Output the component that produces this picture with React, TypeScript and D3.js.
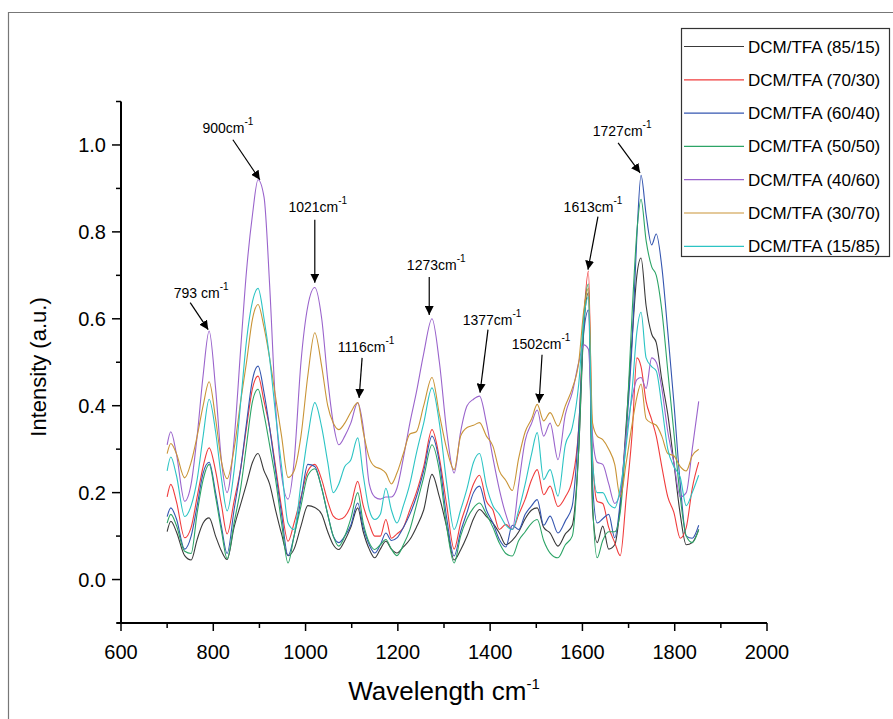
import React, { useEffect, useRef } from "react";
import * as d3 from "d3";

// wavenumber grid (cm-1) shared by all spectra
const wavenumbers = [
  700, 708, 720, 738, 752, 765, 778, 791, 805, 818,
  830, 845, 860, 872, 885, 897, 910, 922, 935, 948,
  962, 975, 990, 1005, 1020, 1035, 1048, 1060, 1072, 1085,
  1098, 1113, 1125, 1138, 1150, 1162, 1174, 1186, 1198, 1212,
  1226, 1240, 1256, 1274, 1290, 1306, 1322, 1336, 1350, 1364,
  1377, 1392, 1406, 1420, 1434, 1448, 1462, 1476, 1490, 1502,
  1516, 1530, 1547, 1563, 1578, 1592, 1603, 1613, 1622, 1632,
  1644, 1657, 1670, 1682, 1695, 1708, 1718, 1727, 1738, 1750,
  1760, 1772, 1785, 1798, 1812, 1825, 1838, 1852,
];

const dcm8515 = [
  0.11, 0.134, 0.11, 0.055, 0.045, 0.092, 0.13, 0.142, 0.10, 0.065,
  0.046, 0.12, 0.176, 0.22, 0.27, 0.29, 0.25, 0.22, 0.16, 0.105,
  0.055, 0.07, 0.123, 0.17, 0.166, 0.15, 0.11, 0.08, 0.069, 0.09,
  0.12, 0.165, 0.11, 0.07, 0.05, 0.07, 0.088, 0.07, 0.061, 0.075,
  0.092, 0.12, 0.16, 0.242, 0.19, 0.12, 0.045, 0.068, 0.10, 0.14,
  0.161, 0.145, 0.13, 0.107, 0.08, 0.09, 0.11, 0.14, 0.16, 0.165,
  0.12, 0.107, 0.077, 0.105, 0.125, 0.30, 0.58, 0.66, 0.16, 0.085,
  0.123, 0.07, 0.08, 0.17, 0.36, 0.56, 0.70, 0.74, 0.63, 0.565,
  0.545, 0.46, 0.38, 0.27, 0.15, 0.08, 0.085, 0.115,
];
const dcm7030 = [
  0.19, 0.219, 0.18, 0.096, 0.12, 0.19, 0.26, 0.303, 0.25, 0.17,
  0.105, 0.18, 0.26, 0.35, 0.44, 0.468, 0.41, 0.35, 0.26, 0.165,
  0.088, 0.13, 0.19, 0.25, 0.265, 0.23, 0.18, 0.146, 0.138, 0.145,
  0.17, 0.226, 0.17, 0.128, 0.10, 0.10, 0.138, 0.095, 0.105, 0.12,
  0.16, 0.20, 0.26, 0.345, 0.28, 0.17, 0.07, 0.13, 0.175, 0.22,
  0.24, 0.18, 0.16, 0.115, 0.127, 0.115, 0.15, 0.185, 0.23, 0.253,
  0.195, 0.215, 0.168, 0.19, 0.23, 0.35, 0.60, 0.71, 0.28, 0.18,
  0.175, 0.12, 0.085, 0.055, 0.19, 0.34, 0.51, 0.49, 0.41, 0.368,
  0.33, 0.26, 0.19, 0.155, 0.095, 0.12, 0.21, 0.27,
];
const dcm6040 = [
  0.145, 0.165, 0.14, 0.07, 0.10, 0.17, 0.245, 0.27, 0.20, 0.12,
  0.06, 0.16, 0.26, 0.36, 0.46, 0.491, 0.43, 0.35, 0.25, 0.15,
  0.055, 0.10, 0.184, 0.265, 0.26, 0.21, 0.15, 0.10, 0.085, 0.10,
  0.125, 0.176, 0.12, 0.08, 0.061, 0.08, 0.107, 0.09, 0.096, 0.12,
  0.15, 0.19, 0.25, 0.33, 0.27, 0.14, 0.054, 0.11, 0.155, 0.20,
  0.215, 0.16, 0.13, 0.092, 0.075, 0.125, 0.115, 0.15, 0.17, 0.184,
  0.125, 0.146, 0.107, 0.135, 0.17, 0.35, 0.57, 0.62, 0.22, 0.13,
  0.14, 0.15, 0.096, 0.18, 0.34, 0.55, 0.79, 0.93, 0.84, 0.77,
  0.795, 0.72, 0.57, 0.41, 0.22, 0.10, 0.095, 0.125,
];
const dcm5050 = [
  0.13, 0.15, 0.125, 0.065, 0.06, 0.153, 0.23, 0.265, 0.19, 0.11,
  0.048, 0.13, 0.215, 0.31, 0.41, 0.438, 0.38, 0.31, 0.23, 0.13,
  0.038, 0.10, 0.169, 0.24, 0.255, 0.21, 0.15, 0.10, 0.077, 0.10,
  0.14, 0.20, 0.13, 0.085, 0.069, 0.08, 0.092, 0.07, 0.055, 0.08,
  0.115, 0.17, 0.235, 0.31, 0.25, 0.12, 0.038, 0.10, 0.14, 0.165,
  0.176, 0.15, 0.12, 0.084, 0.06, 0.054, 0.09, 0.11, 0.13, 0.138,
  0.09, 0.061, 0.05, 0.08, 0.10, 0.30, 0.60, 0.68, 0.18, 0.05,
  0.09, 0.11, 0.11, 0.155, 0.34, 0.62, 0.80, 0.875, 0.78, 0.72,
  0.70, 0.62, 0.48, 0.34, 0.19, 0.10, 0.085, 0.115,
];
const dcm4060 = [
  0.31, 0.34, 0.29, 0.18, 0.22, 0.33, 0.47, 0.572, 0.44, 0.27,
  0.20, 0.32, 0.54, 0.71, 0.84, 0.92, 0.88, 0.68, 0.40, 0.24,
  0.185, 0.27, 0.50, 0.63, 0.672, 0.60, 0.46, 0.36, 0.31, 0.33,
  0.36, 0.407, 0.35, 0.22, 0.19, 0.185, 0.19, 0.19, 0.21, 0.28,
  0.36, 0.43, 0.52, 0.60, 0.50, 0.34, 0.245, 0.34, 0.40, 0.415,
  0.422, 0.36, 0.28, 0.207, 0.15, 0.115, 0.22, 0.32, 0.36, 0.39,
  0.33, 0.36, 0.276, 0.38, 0.43, 0.50, 0.54, 0.53, 0.33, 0.27,
  0.265, 0.22, 0.175, 0.20, 0.33, 0.42, 0.46, 0.465, 0.44, 0.51,
  0.50, 0.44, 0.34, 0.27, 0.19, 0.20, 0.30, 0.41,
];
const dcm3070 = [
  0.29, 0.313, 0.29, 0.234, 0.27, 0.33, 0.40, 0.455, 0.37, 0.27,
  0.232, 0.30, 0.415, 0.50, 0.60, 0.633, 0.58, 0.51, 0.42, 0.33,
  0.235, 0.25, 0.33, 0.47, 0.568, 0.49, 0.40, 0.36, 0.345, 0.36,
  0.385, 0.407, 0.34, 0.28, 0.26, 0.255, 0.245, 0.22, 0.245, 0.29,
  0.335, 0.34, 0.40, 0.465, 0.38, 0.30, 0.253, 0.33, 0.35, 0.355,
  0.361, 0.33, 0.307, 0.25, 0.228, 0.205, 0.28, 0.34, 0.37, 0.403,
  0.365, 0.384, 0.353, 0.40, 0.44, 0.50, 0.62, 0.67, 0.36, 0.33,
  0.322, 0.30, 0.265, 0.19, 0.27, 0.36, 0.42, 0.45, 0.37, 0.36,
  0.355, 0.33, 0.29, 0.285, 0.26, 0.25, 0.285, 0.30,
];
const dcm1585 = [
  0.25, 0.282, 0.24, 0.145, 0.17, 0.23, 0.33, 0.415, 0.34, 0.23,
  0.158, 0.25, 0.415, 0.55, 0.64, 0.67, 0.60, 0.51, 0.38, 0.26,
  0.13, 0.115, 0.22, 0.33, 0.407, 0.35, 0.27, 0.20, 0.22, 0.26,
  0.275, 0.326, 0.24, 0.16, 0.138, 0.15, 0.21, 0.16, 0.13, 0.17,
  0.22, 0.29, 0.36, 0.441, 0.36, 0.22, 0.115, 0.16, 0.21, 0.27,
  0.29, 0.215, 0.17, 0.15, 0.125, 0.115, 0.16, 0.22, 0.29, 0.338,
  0.23, 0.253, 0.192, 0.31, 0.35, 0.45, 0.60, 0.65, 0.27, 0.20,
  0.20, 0.175, 0.165, 0.21, 0.31, 0.44, 0.57, 0.615, 0.51, 0.49,
  0.48, 0.40, 0.30, 0.26, 0.235, 0.17, 0.20, 0.24,
];

const seriesNames = [
  "DCM/TFA (85/15)", "DCM/TFA (70/30)", "DCM/TFA (60/40)", "DCM/TFA (50/50)",
  "DCM/TFA (40/60)", "DCM/TFA (30/70)", "DCM/TFA (15/85)",
];
const seriesValues = [dcm8515, dcm7030, dcm6040, dcm5050, dcm4060, dcm3070, dcm1585];
const seriesColors = ["#3a3a3a", "#f03c3c", "#3556b0", "#2ca466", "#9a64cc", "#c99436", "#2cc4c4"];

// peak annotations: label, arrow tip (wavenumber, intensity)
const peakLabels = ["793 cm", "900cm", "1021cm", "1116cm", "1273cm", "1377cm", "1502cm", "1613cm", "1727cm"];
const peakTipX = [789, 901, 1020, 1116, 1268, 1378, 1506, 1612, 1725];
const peakTipY = [0.575, 0.92, 0.683, 0.418, 0.609, 0.43, 0.407, 0.713, 0.936];

const xTicks = [600, 800, 1000, 1200, 1400, 1600, 1800, 2000];
const yTicks = [0.0, 0.2, 0.4, 0.6, 0.8, 1.0];

// arrow tail offsets from tip, and label offsets from tail (px)
const arrowLayout = [
  { dx: -18, dy: -27, lx: 11, ly: -5 },
  { dx: -27, dy: -40, lx: -5, ly: -7 },
  { dx: 0, dy: -63, lx: 3, ly: -8 },
  { dx: 3, dy: -40, lx: 4, ly: -6 },
  { dx: 0, dy: -38, lx: 7, ly: -7 },
  { dx: 8, dy: -63, lx: 4, ly: -5 },
  { dx: 3, dy: -48, lx: -1, ly: -6 },
  { dx: 10, dy: -53, lx: -5, ly: -5 },
  { dx: -22, dy: -30, lx: 4, ly: -7 },
];

const FONT = "'Liberation Sans', Arial, sans-serif";

function SpectraChart() {
  const svgNode = useRef(null);
  const width = 893;
  const height = 719;

  useEffect(() => {
    const svg = d3.select(svgNode.current);
    svg.selectAll("*").remove();

    const x = d3.scaleLinear().domain([600, 2000]).range([121, 767]);
    const y = d3.scaleLinear().domain([-0.1, 1.1]).range([623, 101.5]);

    //outer frame
    svg.append("path")
      .attr("d", `M8.5,${height} V12.5 H${width}`)
      .attr("fill", "none")
      .attr("stroke", "#777")
      .attr("stroke-width", 1.2);

    //arrow marker
    svg.append("defs").append("marker")
      .attr("id", "arrowHead")
      .attr("viewBox", "0 0 10 10")
      .attr("refX", 10).attr("refY", 5)
      .attr("markerWidth", 9).attr("markerHeight", 9)
      .attr("markerUnits", "userSpaceOnUse")
      .attr("orient", "auto")
      .append("path")
      .attr("d", "M0,0 L10,5 L0,10 z")
      .attr("fill", "#000");

    //spectra
    const line = d3.line()
      .x(d => x(d[0]))
      .y(d => y(d[1]))
      .curve(d3.curveMonotoneX);
    seriesValues.forEach((vals, i) => {
      const pts = wavenumbers.slice(0, vals.length).map((w, j) => [w, vals[j]]);
      svg.append("path")
        .datum(pts)
        .attr("fill", "none")
        .attr("stroke", seriesColors[i])
        .attr("stroke-width", 1.1)
        .attr("d", line);
    });

    //axes
    const axes = svg.append("g").attr("stroke", "#000").attr("stroke-width", 2);
    axes.append("line").attr("x1", 117).attr("x2", x(2000)).attr("y1", y(-0.1)).attr("y2", y(-0.1));
    axes.append("line").attr("x1", x(600)).attr("x2", x(600)).attr("y1", y(1.1)).attr("y2", y(-0.1));

    d3.range(600, 2001, 100).forEach(v => {
      const major = v % 200 === 0;
      axes.append("line")
        .attr("x1", x(v)).attr("x2", x(v))
        .attr("y1", y(-0.1)).attr("y2", y(-0.1) + (major ? 8 : 5))
        .attr("stroke-width", 1.5);
    });
    d3.range(-0.1, 1.15, 0.1).forEach(v => {
      const major = Math.round(v * 10) % 2 === 0;
      axes.append("line")
        .attr("x1", x(600)).attr("x2", x(600) - (major ? 9 : 5))
        .attr("y1", y(v)).attr("y2", y(v))
        .attr("stroke-width", 1.5);
    });

    svg.append("g").selectAll("text")
      .data(xTicks).join("text")
      .attr("x", d => x(d)).attr("y", y(-0.1) + 36)
      .attr("text-anchor", "middle")
      .attr("font-family", FONT).attr("font-size", 20)
      .text(d => d);

    svg.append("g").selectAll("text")
      .data(yTicks).join("text")
      .attr("x", x(600) - 15).attr("y", d => y(d) + 7)
      .attr("text-anchor", "end")
      .attr("font-family", FONT).attr("font-size", 20)
      .text(d => d3.format(".1f")(d));

    //axis titles
    const xt = svg.append("text")
      .attr("x", 444).attr("y", 700)
      .attr("text-anchor", "middle")
      .attr("font-family", FONT).attr("font-size", 26);
    xt.append("tspan").text("Wavelength cm");
    xt.append("tspan").attr("dy", -11).attr("font-size", 15).text("-1");

    svg.append("text")
      .attr("transform", "translate(46,367) rotate(-90)")
      .attr("text-anchor", "middle")
      .attr("font-family", FONT).attr("font-size", 22)
      .text("Intensity (a.u.)");

    //peak annotations
    peakLabels.forEach((label, i) => {
      const tx = x(peakTipX[i]);
      const ty = y(peakTipY[i]);
      const a = arrowLayout[i];
      svg.append("line")
        .attr("x1", tx + a.dx).attr("y1", ty + a.dy)
        .attr("x2", tx).attr("y2", ty)
        .attr("stroke", "#000").attr("stroke-width", 1.2)
        .attr("marker-end", "url(#arrowHead)");
      const t = svg.append("text")
        .attr("x", tx + a.dx + a.lx).attr("y", ty + a.dy + a.ly)
        .attr("text-anchor", "middle")
        .attr("font-family", FONT).attr("font-size", 14);
      t.append("tspan").text(label);
      t.append("tspan").attr("dy", -8).attr("font-size", 10).text("-1");
    });

    //legend
    const lg = svg.append("g");
    lg.append("rect")
      .attr("x", 681.5).attr("y", 28.5).attr("width", 208).attr("height", 228)
      .attr("fill", "#fff").attr("stroke", "#333").attr("stroke-width", 1.2);
    seriesNames.forEach((name, i) => {
      const yy = 46.5 + i * 33.3;
      lg.append("line")
        .attr("x1", 684).attr("x2", 744).attr("y1", yy).attr("y2", yy)
        .attr("stroke", seriesColors[i]).attr("stroke-width", 1.2);
      lg.append("text")
        .attr("x", 748).attr("y", yy + 6)
        .attr("font-family", FONT).attr("font-size", 17)
        .text(name);
    });
  }, []);

  return (
    <svg ref={svgNode} width={width} height={height}
      style={{ position: "absolute", left: 0, top: 0, background: "#fff" }} />
  );
}

export default function App() {
  return <SpectraChart />;
}
